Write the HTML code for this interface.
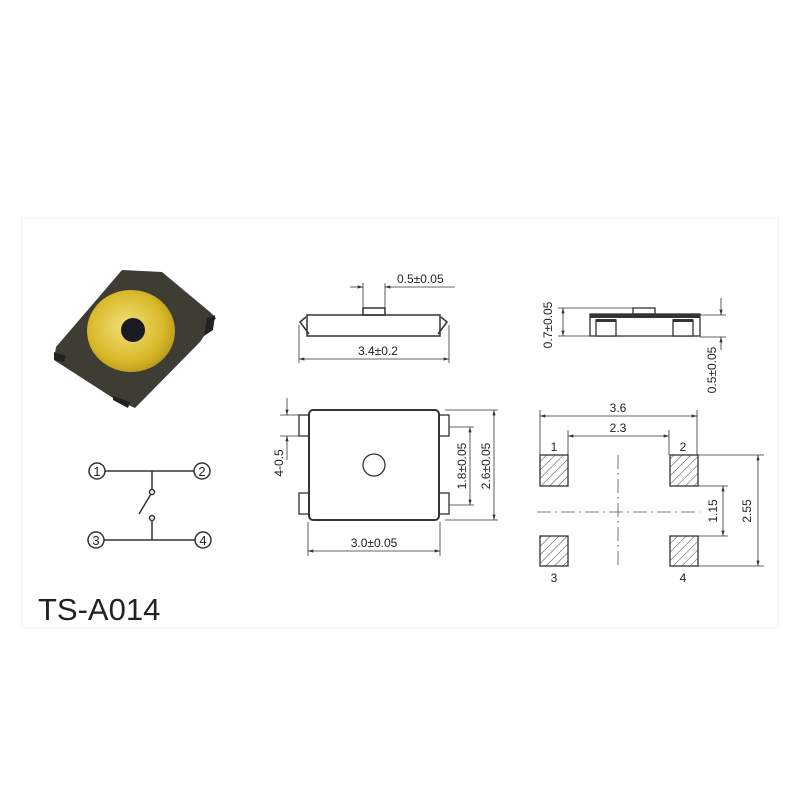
<!DOCTYPE html>
<html><head><meta charset="utf-8"><style>
html,body{margin:0;padding:0;background:#fff;}
svg{display:block;}
text{font-family:"Liberation Sans",sans-serif;fill:#222;}
</style></head><body>
<svg width="800" height="800" viewBox="0 0 800 800" xmlns="http://www.w3.org/2000/svg">
<defs>
<marker id="a" viewBox="0 0 10 6" refX="10" refY="3" markerWidth="8" markerHeight="4" orient="auto-start-reverse"><path d="M0,0L10,3L0,6z" fill="#333"/></marker>
<pattern id="h" patternUnits="userSpaceOnUse" width="6" height="6" patternTransform="rotate(45)"><line x1="0" y1="0" x2="0" y2="6" stroke="#444" stroke-width="1"/></pattern>
<radialGradient id="g" cx="0.45" cy="0.45" r="0.6"><stop offset="0" stop-color="#f4e07a"/><stop offset="0.7" stop-color="#d8b92a"/><stop offset="1" stop-color="#b89418"/></radialGradient>
</defs>
<rect x="22" y="218" width="756" height="410" fill="none" stroke="#f2f2f2"/>
<!-- photo -->
<polygon points="56,347 122,270 162,272 210,312 216,318 200,342 135,408 113,398 54,360" fill="#3e3d33"/>
<polygon points="207,318 215,315 213,330 204,336" fill="#222"/>
<polygon points="54,352 66,356 64,362 54,360" fill="#222"/>
<polygon points="113,396 130,402 128,408 113,400" fill="#222"/>
<ellipse cx="131" cy="331" rx="44" ry="41" fill="url(#g)"/>
<circle cx="133" cy="330" r="12" fill="#1a1a22"/>
<!-- schematic -->
<g stroke="#333" stroke-width="1.5" fill="none">
<circle cx="97" cy="471" r="8"/><circle cx="202" cy="471" r="8"/>
<circle cx="96" cy="540" r="8"/><circle cx="203" cy="540" r="8"/>
<line x1="105" y1="471" x2="194" y2="471"/><line x1="104" y1="540" x2="195" y2="540"/>
<line x1="152" y1="471" x2="152" y2="489"/><circle cx="152" cy="492" r="2.5"/>
<line x1="151" y1="494" x2="139" y2="514"/>
<circle cx="152" cy="518" r="2.5"/><line x1="152" y1="521" x2="152" y2="540"/>
</g>
<g font-size="13" text-anchor="middle"><text x="97" y="476">1</text><text x="202" y="476">2</text><text x="96" y="545">3</text><text x="203" y="545">4</text></g>
<text x="38" y="620" font-size="31">TS-A014</text>
<!-- side view 1 -->
<g stroke="#333" fill="none" stroke-width="1.5">
<rect x="307" y="315" width="133" height="21" fill="#fff"/>
<rect x="363" y="308" width="22" height="7"/>
<path d="M306,317 L300,322 L309,334"/><path d="M441,317 L447,322 L438,334"/>
</g>
<g stroke="#333" stroke-width="0.8" fill="none">
<line x1="363" y1="283" x2="363" y2="308"/><line x1="385" y1="283" x2="385" y2="308"/>
<line x1="350" y1="287" x2="363" y2="287" marker-end="url(#a)"/><line x1="455" y1="287" x2="385" y2="287" marker-end="url(#a)"/>
<line x1="299" y1="325" x2="299" y2="363"/><line x1="449" y1="325" x2="449" y2="363"/>
<line x1="299" y1="359" x2="449" y2="359" marker-start="url(#a)" marker-end="url(#a)"/>
</g>
<text x="397" y="283" font-size="12">0.5±0.05</text>
<text x="358" y="355" font-size="12">3.4±0.2</text>
<!-- top view -->
<g stroke="#333" fill="#fff" stroke-width="1.3">
<rect x="299" y="415" width="10" height="21"/><rect x="299" y="493" width="10" height="21"/>
<rect x="439" y="415" width="10" height="21"/><rect x="439" y="493" width="10" height="21"/>
<rect x="309" y="410" width="130" height="110" rx="4" stroke-width="2"/>
<circle cx="374" cy="465" r="11"/>
</g>
<g stroke="#333" stroke-width="0.8" fill="none">
<line x1="308" y1="522" x2="308" y2="556"/><line x1="440" y1="522" x2="440" y2="556"/>
<line x1="308" y1="551" x2="440" y2="551" marker-start="url(#a)" marker-end="url(#a)"/>
<line x1="280" y1="415" x2="300" y2="415"/><line x1="280" y1="436" x2="300" y2="436"/>
<line x1="287" y1="398" x2="287" y2="415" marker-end="url(#a)"/><line x1="287" y1="460" x2="287" y2="436" marker-end="url(#a)"/>
<line x1="449" y1="427" x2="474" y2="427"/><line x1="449" y1="505" x2="474" y2="505"/>
<line x1="470" y1="427" x2="470" y2="505" marker-start="url(#a)" marker-end="url(#a)"/>
<line x1="445" y1="410" x2="498" y2="410"/><line x1="445" y1="520" x2="498" y2="520"/>
<line x1="494" y1="410" x2="494" y2="520" marker-start="url(#a)" marker-end="url(#a)"/>
</g>
<text x="374" y="547" font-size="12" text-anchor="middle">3.0±0.05</text>
<text transform="translate(283,463) rotate(-90)" font-size="12" text-anchor="middle">4-0.5</text>
<text transform="translate(466,466) rotate(-90)" font-size="12" text-anchor="middle">1.8±0.05</text>
<text transform="translate(490,466) rotate(-90)" font-size="12" text-anchor="middle">2.6±0.05</text>
<!-- side view 2 -->
<g stroke="#333" fill="#fff" stroke-width="1.3">
<rect x="633" y="308" width="22" height="6"/>
<rect x="590" y="314" width="110" height="22"/>
<rect x="596" y="320" width="20" height="16"/><rect x="673" y="320" width="20" height="16"/>
</g>
<rect x="590" y="314" width="110" height="4" fill="#333"/>
<rect x="596" y="319" width="20" height="3" fill="#333"/><rect x="673" y="319" width="20" height="3" fill="#333"/>
<g stroke="#333" stroke-width="0.8" fill="none">
<line x1="558" y1="308" x2="633" y2="308"/><line x1="558" y1="336" x2="590" y2="336"/>
<line x1="563" y1="308" x2="563" y2="336" marker-start="url(#a)" marker-end="url(#a)"/>
<line x1="700" y1="315" x2="726" y2="315"/><line x1="700" y1="337" x2="726" y2="337"/>
<line x1="721" y1="298" x2="721" y2="315" marker-end="url(#a)"/><line x1="721" y1="350" x2="721" y2="337" marker-end="url(#a)"/>
</g>
<text transform="translate(552,325) rotate(-90)" font-size="12" text-anchor="middle">0.7±0.05</text>
<text transform="translate(716,370) rotate(-90)" font-size="12" text-anchor="middle">0.5±0.05</text>
<!-- footprint -->
<g stroke="#333" stroke-width="1.3" fill="url(#h)">
<rect x="540" y="455" width="28" height="31"/><rect x="670" y="455" width="28" height="31"/>
<rect x="540" y="536" width="28" height="30"/><rect x="670" y="536" width="28" height="30"/>
</g>
<g stroke="#555" stroke-width="0.8" fill="none" stroke-dasharray="14,4,2,4">
<line x1="618" y1="455" x2="618" y2="566"/><line x1="537" y1="512" x2="700" y2="512"/>
</g>
<g stroke="#333" stroke-width="0.8" fill="none">
<line x1="540" y1="410" x2="540" y2="455"/><line x1="697" y1="410" x2="697" y2="455"/>
<line x1="540" y1="416" x2="697" y2="416" marker-start="url(#a)" marker-end="url(#a)"/>
<line x1="568" y1="430" x2="568" y2="455"/><line x1="669" y1="430" x2="669" y2="455"/>
<line x1="568" y1="436" x2="669" y2="436" marker-start="url(#a)" marker-end="url(#a)"/>
<line x1="698" y1="486" x2="728" y2="486"/><line x1="698" y1="536" x2="728" y2="536"/>
<line x1="723" y1="486" x2="723" y2="536" marker-start="url(#a)" marker-end="url(#a)"/>
<line x1="698" y1="455" x2="764" y2="455"/><line x1="698" y1="566" x2="764" y2="566"/>
<line x1="758" y1="455" x2="758" y2="566" marker-start="url(#a)" marker-end="url(#a)"/>
</g>
<g font-size="12" text-anchor="middle">
<text x="618" y="412">3.6</text><text x="618" y="432">2.3</text>
<text x="554" y="451">1</text><text x="683" y="451">2</text>
<text x="554" y="582">3</text><text x="683" y="582">4</text>
</g>
<text transform="translate(717,511) rotate(-90)" font-size="12" text-anchor="middle">1.15</text>
<text transform="translate(751,511) rotate(-90)" font-size="12" text-anchor="middle">2.55</text>
</svg>
</body></html>
